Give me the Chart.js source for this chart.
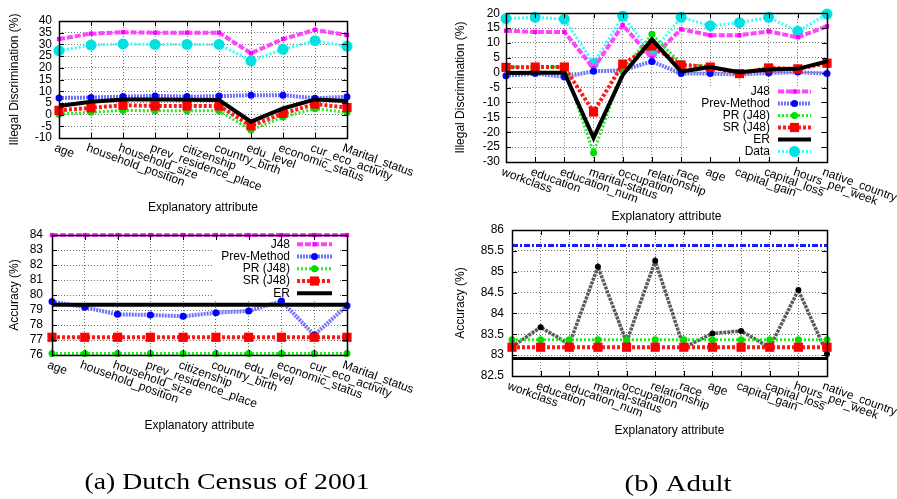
<!DOCTYPE html>
<html><head><meta charset="utf-8">
<script src="https://cdn.jsdelivr.net/npm/chart.js@4.4.0/dist/chart.umd.min.js"></script>
<style>
html,body{margin:0;padding:0;background:#fff;}
#wrap{position:relative;width:897px;height:499px;overflow:hidden;background:#fff;}
canvas{position:absolute;left:0;top:0;}
</style></head><body>
<div id="wrap">
<canvas id="c1" width="897" height="499"></canvas>
<canvas id="c2" width="897" height="499"></canvas>
<canvas id="c3" width="897" height="499"></canvas>
<canvas id="c4" width="897" height="499"></canvas>
</div>
<script>
// ---------------- DATA ----------------
const dutchAttributes = ['age','household_position','household_size','prev_residence_place','citizenship','country_birth','edu_level','economic_status','cur_eco_activity','Marital_status'];
const dutchDiscTicks = [-10,-5,0,5,10,15,20,25,30,35,40];
const dutchDiscJ48  = [32.3,34.6,35.2,35.0,35.0,35.0,26.2,32.3,36.2,34.0];
const dutchDiscPrev = [7.1,7.3,7.7,8.0,7.7,7.9,8.3,8.3,7.0,7.6];
const dutchDiscPR   = [0.2,1.0,1.8,1.6,1.6,1.6,-6.6,-1.0,2.5,0.9];
const dutchDiscSR   = [1.8,2.9,4.0,3.7,3.7,3.7,-4.8,0.5,4.5,3.0];
const dutchDiscER   = [3.7,5.5,6.5,6.4,6.3,6.2,-3.0,2.6,6.5,5.8];
const dutchDiscData = [27.3,29.7,30.2,30.0,30.0,30.0,23.0,27.9,31.6,29.2];

const dutchAccTicks = [76,77,78,79,80,81,82,83,84];
const dutchAccJ48  = [84,84,84,84,84,84,84,84,84,84];
const dutchAccPrev = [79.56,79.18,78.71,78.67,78.58,78.82,78.93,79.6,77.33,79.29];
const dutchAccPR   = [76.1,76.1,76.1,76.1,76.1,76.1,76.1,76.1,76.1,76.1];
const dutchAccSR   = [77.18,77.18,77.18,77.18,77.18,77.18,77.18,77.18,77.18,77.18];
const dutchAccER   = [79.35,79.35,79.35,79.35,79.35,79.35,79.35,79.35,79.35,79.35];

const adultAttributes = ['workclass','education','education_num','marital-status','occupation','relationship','race','age','capital_gain','capital_loss','hours_per_week','native_country'];
const adultDiscTicks = [-30,-25,-20,-15,-10,-5,0,5,10,15,20];
const adultDiscJ48  = [14.1,13.7,13.7,1.5,16.0,5.0,14.6,12.6,12.6,13.9,11.9,15.6];
const adultDiscPrev = [-1.0,-0.3,-1.4,0.5,0.8,3.8,-0.3,-0.3,-0.6,-0.1,0.2,-0.3];
const adultDiscPR   = [1.9,1.9,1.9,-26.9,0.7,12.9,3.0,2.0,0.0,1.3,1.3,3.5];
const adultDiscSR   = [1.8,1.9,1.9,-13.2,2.9,9.0,2.6,1.9,-0.3,1.6,1.3,3.2];
const adultDiscER   = [-0.1,0.0,0.0,-21.9,-0.8,11.2,0.4,1.9,0.2,1.1,1.3,3.8];
const adultDiscData = [18.2,18.6,18.0,3.1,19.0,6.6,18.6,15.8,16.8,18.6,13.9,19.7];

const adultAccTicks = [82.5,83,83.5,84,84.5,85,85.5,86];
const adultAccBlue  = [85.63,85.63,85.63,85.63,85.63,85.63,85.63,85.63,85.63,85.63,85.63,85.63];
const adultAccZig   = [83.2,83.67,83.26,85.12,83.31,85.26,83.18,83.52,83.58,83.18,84.56,83.03];
const adultAccPR    = [83.37,83.37,83.37,83.37,83.37,83.37,83.37,83.37,83.37,83.37,83.37,83.37];
const adultAccSR    = [83.19,83.19,83.19,83.19,83.19,83.19,83.19,83.19,83.19,83.19,83.19,83.19];
const adultAccER    = [82.92,82.92,82.92,82.92,82.92,82.92,82.92,82.92,82.92,82.92,82.92,82.92];

// ---------------- STYLES ----------------
const FONT = '"Liberation Sans", Arial, Helvetica, sans-serif';
const STY = {
  J48:  {borderColor:'#ff44ff', borderWidth:4, borderDash:[6,2], pointStyle:'rect', pointRadius:3, pointBackgroundColor:'#ff00ff', pointBorderColor:'#ff00ff', order:4},
  Prev: {borderColor:'#7070ff', borderWidth:4, borderDash:[2,1], pointStyle:'circle', pointRadius:3.5, pointBackgroundColor:'#0000ff', pointBorderColor:'#0000ff', order:3},
  PR:   {borderColor:'#22ee22', borderWidth:3, borderDash:[2,2], pointStyle:'circle', pointRadius:3.5, pointBackgroundColor:'#00dd00', pointBorderColor:'#00dd00', order:2},
  SR:   {borderColor:'#ff1a1a', borderWidth:4, borderDash:[3,2], pointStyle:'rect', pointRadius:6.5, pointBackgroundColor:'#ff0000', pointBorderColor:'#ff0000', order:1},
  ER:   {borderColor:'#000000', borderWidth:4, borderDash:[], pointStyle:'circle', pointRadius:0, pointBackgroundColor:'#000', pointBorderColor:'#000', order:0},
  Data: {borderColor:'#33ffff', borderWidth:3, borderDash:[2,2], pointStyle:'circle', pointRadius:5.5, pointBackgroundColor:'#00e2e2', pointBorderColor:'#00e2e2', order:5},
  Blue: {borderColor:'#1a1aff', borderWidth:3, borderDash:[6,2,2,2], pointStyle:'circle', pointRadius:0, pointBackgroundColor:'#00f', pointBorderColor:'#00f', order:4},
  Zig:  {borderColor:'#5a5a5a', borderWidth:3.5, borderDash:[3,1], pointStyle:'circle', pointRadius:3, pointBackgroundColor:'#000', pointBorderColor:'#000', order:3}
};
function ds(label, data, key, extra){
  return Object.assign({label, data, tension:0, fill:false, clip:false, pointBorderWidth:0, pointHoverRadius:0}, STY[key], extra||{});
}

// ---------------- DECORATION PLUGIN ----------------
function decoPlugin(cfg){
  return {
    id:'deco',
    beforeDatasetsDraw(chart){
      if(cfg.legend){
        const ctx=chart.ctx, b=cfg.legend.box;
        ctx.save(); ctx.fillStyle='#fff'; ctx.fillRect(b[0],b[1],b[2]-b[0],b[3]-b[1]); ctx.restore();
      }
    },
    afterDraw(chart){
      const ctx=chart.ctx, a=chart.chartArea, xs=chart.scales.x, ys=chart.scales.y;
      ctx.save();
      ctx.strokeStyle='#000'; ctx.lineWidth=1.5; ctx.setLineDash([]);
      ctx.strokeRect(Math.round(a.left)+0.5, Math.round(a.top)+0.5, Math.round(a.right-a.left), Math.round(a.bottom-a.top));
      ctx.lineWidth=1;
      ctx.beginPath();
      ys.ticks.forEach(t=>{ const y=Math.round(ys.getPixelForValue(t.value))+0.5;
        ctx.moveTo(a.left,y); ctx.lineTo(a.left+5,y); ctx.moveTo(a.right,y); ctx.lineTo(a.right-5,y); });
      cfg.labels.forEach((l,i)=>{ const x=Math.round(xs.getPixelForValue(i))+0.5;
        ctx.moveTo(x,a.bottom); ctx.lineTo(x,a.bottom-5); ctx.moveTo(x,a.top); ctx.lineTo(x,a.top+5); });
      ctx.stroke();
      ctx.fillStyle='#000'; ctx.font='12px '+FONT; ctx.textAlign='left'; ctx.textBaseline='top';
      cfg.labels.forEach((l,i)=>{ const x=xs.getPixelForValue(i);
        ctx.save(); ctx.translate(x-2, a.bottom+4); ctx.rotate(20*Math.PI/180); ctx.fillText(l,0,0); ctx.restore(); });
      ctx.textAlign='center'; ctx.textBaseline='middle';
      ctx.fillText('Explanatory attribute', (a.left+a.right)/2, cfg.xTitleY);
      ctx.save(); ctx.translate(cfg.yTitleX,(a.top+a.bottom)/2); ctx.rotate(-Math.PI/2);
      ctx.fillText(cfg.yTitle,0,0); ctx.restore();
      if(cfg.legend){
        const L=cfg.legend;
        L.items.forEach((it,k)=>{
          const y=L.y0+k*L.step;
          const d=chart.data.datasets[it];
          ctx.fillStyle='#000'; ctx.textAlign='right'; ctx.textBaseline='middle'; ctx.font='12px '+FONT;
          ctx.fillText(d.label, L.textRight, y);
          ctx.save();
          ctx.strokeStyle=d.borderColor; ctx.lineWidth=d.borderWidth; ctx.setLineDash(d.borderDash||[]);
          ctx.beginPath(); ctx.moveTo(L.sx1,y); ctx.lineTo(L.sx2,y); ctx.stroke();
          ctx.setLineDash([]);
          if(d.pointRadius>0){
            ctx.fillStyle=d.pointBackgroundColor; ctx.strokeStyle=d.pointBorderColor; ctx.lineWidth=0;
            Chart.helpers.drawPoint(ctx,{pointStyle:d.pointStyle,radius:d.pointRadius,rotation:0,borderWidth:0},(L.sx1+L.sx2)/2,y);
          }
          ctx.restore();
        });
      }
      if(cfg.caption){
        const c=cfg.caption;
        ctx.font='24px "Liberation Serif", "Times New Roman", serif';
        ctx.fillStyle='#000'; ctx.textAlign='center'; ctx.textBaseline='middle';
        const w=ctx.measureText(c.text).width;
        ctx.save(); ctx.translate(c.x,c.y); ctx.scale(c.w/w,1); ctx.fillText(c.text,0,0); ctx.restore();
      }
      ctx.restore();
    }
  };
}

function makeChart(id, cfg){
  const W=897,H=499;
  return new Chart(document.getElementById(id), {
    type:'line',
    data:{labels:cfg.labels, datasets:cfg.datasets},
    options:{
      responsive:false, animation:false, devicePixelRatio:1,
      events:[],
      layout:{padding:{left:0, top:cfg.rect.t, right:W-cfg.rect.r, bottom:H-cfg.rect.b}},
      plugins:{legend:{display:false}, tooltip:{enabled:false}, title:{display:false}},
      scales:{
        x:{type:'category', offset:false,
           ticks:{display:false, autoSkip:false},
           grid:{display:true, color:'rgba(0,0,0,0.55)', lineWidth:1, drawTicks:false},
           border:{display:false, dash:[1,2]},
           afterFit(s){ s.height=0; }},
        y:{type:'linear', min:cfg.ticks[0], max:cfg.ticks[cfg.ticks.length-1],
           afterBuildTicks(s){ s.ticks = cfg.ticks.map(v=>({value:v})); },
           ticks:{color:'#000', font:{family:FONT, size:12}, padding:cfg.tickPad, autoSkip:false,
                  callback:(v)=>String(v)},
           grid:{display:true, color:'rgba(0,0,0,0.55)', lineWidth:1, drawTicks:false},
           border:{display:false, dash:[1,2]},
           afterFit(s){ s.width=cfg.rect.l; }}
      }
    },
    plugins:[decoPlugin(cfg)]
  });
}

makeChart('c1', {
  labels:dutchAttributes, ticks:dutchDiscTicks, tickPad:7,
  rect:{l:59,t:21,r:347,b:138},
  yTitle:'Illegal Discrimination (%)', yTitleX:15, xTitleY:208,
  datasets:[
    ds('J48',dutchDiscJ48,'J48'), ds('Prev-Method',dutchDiscPrev,'Prev'), ds('PR (J48)',dutchDiscPR,'PR'),
    ds('SR (J48)',dutchDiscSR,'SR'), ds('ER',dutchDiscER,'ER'), ds('Data',dutchDiscData,'Data')
  ],
  caption:{text:'(a) Dutch Census of 2001', x:227, y:483, w:285}
});

makeChart('c2', {
  labels:adultAttributes, ticks:adultDiscTicks, tickPad:6,
  rect:{l:506,t:12,r:827,b:162},
  yTitle:'Illegal Discrimination (%)', yTitleX:461, xTitleY:217,
  datasets:[
    ds('J48',adultDiscJ48,'J48'), ds('Prev-Method',adultDiscPrev,'Prev'), ds('PR (J48)',adultDiscPR,'PR'),
    ds('SR (J48)',adultDiscSR,'SR'), ds('ER',adultDiscER,'ER'), ds('Data',adultDiscData,'Data')
  ],
  legend:{box:[687,86,819,158], items:[0,1,2,3,4,5], y0:91.5, step:12, textRight:770, sx1:778, sx2:811},
  caption:{text:'(b) Adult', x:678, y:485, w:107}
});

makeChart('c3', {
  labels:dutchAttributes, ticks:dutchAccTicks, tickPad:9,
  rect:{l:52,t:235,r:347,b:355},
  yTitle:'Accuracy (%)', yTitleX:15, xTitleY:426,
  datasets:[
    ds('J48',dutchAccJ48,'J48'), ds('Prev-Method',dutchAccPrev,'Prev'), ds('PR (J48)',dutchAccPR,'PR'),
    ds('SR (J48)',dutchAccSR,'SR'), ds('ER',dutchAccER,'ER')
  ],
  legend:{box:[212,238,340,299], items:[0,1,2,3,4], y0:244.3, step:12.25, textRight:290, sx1:297, sx2:332}
});

makeChart('c4', {
  labels:adultAttributes, ticks:adultAccTicks, tickPad:8,
  rect:{l:512,t:230,r:827,b:376},
  yTitle:'Accuracy (%)', yTitleX:461, xTitleY:431,
  datasets:[
    ds('J48',adultAccBlue,'Blue'), ds('Prev-Method',adultAccZig,'Zig'), ds('PR (J48)',adultAccPR,'PR'),
    ds('SR (J48)',adultAccSR,'SR'), ds('ER',adultAccER,'ER',{borderWidth:3})
  ]
});
</script>
</body></html>
